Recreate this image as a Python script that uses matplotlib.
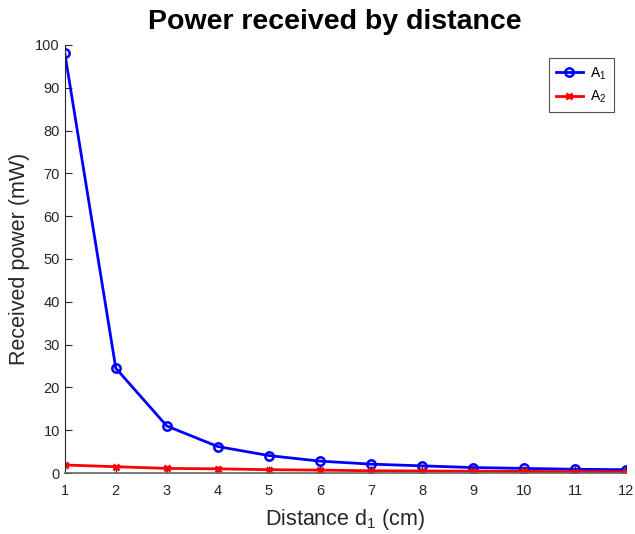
import numpy as np
import matplotlib
matplotlib.use("Agg")
import matplotlib.pyplot as plt

plt.rcParams['font.family'] = ['Liberation Sans', 'DejaVu Sans']
plt.rcParams['mathtext.fontset'] = 'custom'
plt.rcParams['mathtext.rm'] = 'Liberation Sans'
plt.rcParams['mathtext.it'] = 'Liberation Sans'

distance = np.arange(1, 13)
a1 = [98.1, 24.5, 11.0, 6.2, 4.1, 2.8, 2.1, 1.7, 1.3, 1.1, 0.9, 0.8]
a2 = [1.9, 1.5, 1.1, 1.0, 0.8, 0.7, 0.55, 0.5, 0.45, 0.4, 0.35, 0.3]

fig = plt.figure(figsize=(6.35, 5.34), dpi=100)
ax = fig.add_axes([0.102, 0.114, 0.884, 0.802])

ax.plot(distance, a1, color='#0000ff', lw=2, marker='o', ms=6, mfc='none', mew=1.8, label='A$_1$')
ax.plot(distance, a2, color='#ff0000', lw=2, marker='x', ms=5, mew=2, label='A$_2$')

ax.set_xlim(1, 12)
ax.set_ylim(0, 100)
ax.set_xticks(distance)
ax.set_yticks(np.arange(0, 101, 10))
ax.tick_params(direction='in', labelsize=10.5, colors='#262626', length=5)
ax.tick_params(axis='x', pad=8)
for s in ['top', 'right']:
    ax.spines[s].set_visible(False)
ax.spines['left'].set_color('#262626')
ax.spines['bottom'].set_color('#666666')
ax.spines['bottom'].set_linewidth(1.2)

fig.text(335 / 635, 1 - 22 / 534, 'Power received by distance', fontsize=20.5,
         fontweight='bold', ha='center', va='center')
ax.set_xlabel('Distance d$_1$ (cm)', fontsize=15.5, color='#262626', labelpad=6)
ax.set_ylabel('Received power (mW)', fontsize=15.5, color='#262626')

leg = ax.legend(loc='upper right', bbox_to_anchor=(0.99, 0.985), fontsize=10, fancybox=False,
                edgecolor='#262626', handlelength=2.0, borderpad=0.5, handletextpad=0.5)
leg.get_frame().set_linewidth(0.8)

fig.savefig('out.png', dpi=100)
